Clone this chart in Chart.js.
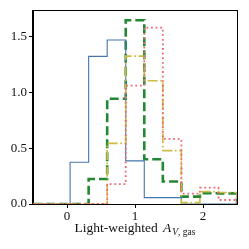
<!DOCTYPE html>
<html>
<head>
<meta charset="utf-8">
<script src="https://cdn.jsdelivr.net/npm/chart.js@4"></script>
<style>
html, body { margin: 0; padding: 0; background: #fff; }
#wrap { width: 249px; height: 249px; }
</style>
</head>
<body>
<div id="wrap"><canvas id="chart" width="249" height="249"></canvas></div>
<script>
// 11 equal bins between -0.5 and 2.5
var binEdges = [-0.5, -0.2273, 0.0455, 0.3182, 0.5909, 0.8636, 1.1364, 1.4091, 1.6818, 1.9545, 2.2273, 2.5];

// density per bin
var blueValues   = [0, 0, 0.374, 1.321, 1.468, 0.386, 0.057, 0.057, 0, 0, 0];
var greenValues  = [0, 0, 0, 0.224, 0.942, 1.644, 0.400, 0.202, 0.066, 0.096, 0.095];
var yellowValues = [0, 0, 0, 0, 0.542, 1.324, 1.103, 0.478, 0.012, 0.110, 0.103];
var pinkValues   = [0, 0, 0, 0, 0.178, 1.060, 1.578, 0.582, 0.092, 0.146, 0.036];

var xTicks = [0, 1, 2];
var xTickLabels = ['0', '1', '2'];
var yTicks = [0, 0.5, 1.0, 1.5];
var yTickLabels = ['0.0', '0.5', '1.0', '1.5'];

var serif = '"Liberation Serif", "DejaVu Serif", serif';

// histogram outline as points for a stepped line
function stepPoints(vals) {
    var pts = [{ x: binEdges[0], y: 0 }];
    for (var i = 0; i < vals.length; i++) {
        pts.push({ x: binEdges[i], y: vals[i] });
    }
    pts.push({ x: binEdges[binEdges.length - 1], y: 0 });
    return pts;
}

function histSet(vals, color, width, dash, order) {
    return {
        data: stepPoints(vals),
        borderColor: color,
        borderWidth: width,
        borderDash: dash,
        borderCapStyle: 'butt',
        stepped: true,
        pointRadius: 0,
        fill: false,
        order: order
    };
}

// frame around the plot + x-axis title with subscript
var framePlugin = {
    id: 'frame',
    afterDatasetsDraw: function(chart) {
        var a = chart.chartArea, ctx = chart.ctx;
        ctx.save();
        ctx.strokeStyle = '#000';
        ctx.lineWidth = 1;
        ctx.strokeRect(Math.round(a.left) - 0.5, Math.round(a.top) - 0.5,
            Math.round(a.right - a.left) + 1, Math.round(a.bottom - a.top) + 1);
        ctx.restore();
    },
    afterDraw: function(chart) {
        var a = chart.chartArea, ctx = chart.ctx;
        var main = 'Light-weighted ', big = 'A', subV = 'V', subRest = ', gas';
        var fMain = '13.5px ' + serif, fIt = 'italic 13.5px ' + serif;
        var fSubIt = 'italic 9.5px ' + serif, fSub = '9.5px ' + serif;
        ctx.save();
        ctx.fillStyle = '#111';
        ctx.textBaseline = 'alphabetic';
        ctx.font = fMain; var w1 = ctx.measureText(main).width + 2;
        ctx.font = fIt; var w2 = ctx.measureText(big).width;
        ctx.font = fSubIt; var w3 = ctx.measureText(subV).width;
        ctx.font = fSub; var w4 = ctx.measureText(subRest).width;
        var total = w1 + w2 + w3 + w4 + 1;
        var x = (a.left + a.right) / 2 - total / 2;
        var y = 232;
        ctx.font = fMain; ctx.fillText(main, x, y); x += w1;
        ctx.font = fIt; ctx.fillText(big, x, y); x += w2 + 1;
        ctx.font = fSubIt; ctx.fillText(subV, x, y + 3); x += w3;
        ctx.font = fSub; ctx.fillText(subRest, x, y + 3);
        ctx.restore();
    }
};

new Chart(document.getElementById('chart'), {
    type: 'line',
    data: {
        datasets: [
            histSet(greenValues, '#228833', 2.6, [9, 4], 3),
            histSet(blueValues, '#4477AA', 1.1, [], 2),
            histSet(yellowValues, '#CCBB44', 1.7, [10, 2.6, 1.7, 2.6], 1),
            histSet(pinkValues, '#EE6677', 1.8, [1.8, 2.8], 0)
        ]
    },
    options: {
        responsive: false,
        animation: false,
        layout: { padding: { top: 11, right: 12, left: 0, bottom: 0 } },
        plugins: { legend: { display: false }, tooltip: { enabled: false } },
        scales: {
            x: {
                type: 'linear', min: -0.5, max: 2.5,
                afterBuildTicks: function(s) { s.ticks = xTicks.map(function(v) { return { value: v }; }); },
                afterFit: function(s) { s.height = 45; },
                ticks: {
                    color: '#111', padding: 1, maxRotation: 0,
                    font: { family: serif, size: 13 },
                    callback: function(v, i) { return xTickLabels[i]; }
                },
                grid: { drawOnChartArea: false, drawTicks: true, tickLength: 4, tickColor: '#000', tickWidth: 1 },
                border: { display: true, color: '#000', width: 1 }
            },
            y: {
                type: 'linear', min: 0, max: 1.727,
                afterBuildTicks: function(s) { s.ticks = yTicks.map(function(v) { return { value: v }; }); },
                afterFit: function(s) { s.width = 33; },
                ticks: {
                    color: '#111', padding: 2,
                    font: { family: serif, size: 13 },
                    callback: function(v, i) { return yTickLabels[i]; }
                },
                grid: { drawOnChartArea: false, drawTicks: true, tickLength: 4, tickColor: '#000', tickWidth: 1 },
                border: { display: true, color: '#000', width: 1 }
            }
        }
    },
    plugins: [framePlugin]
});
</script>
</body>
</html>
